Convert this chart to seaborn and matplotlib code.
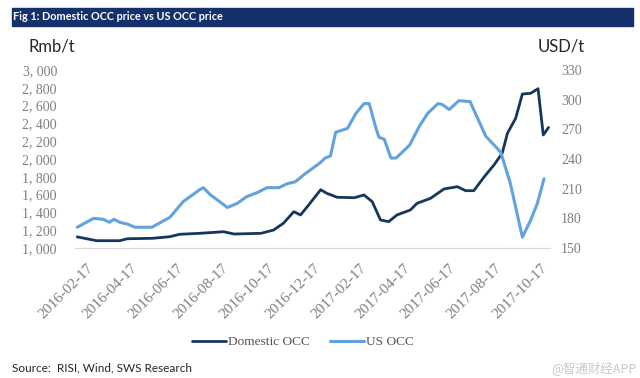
import pandas as pd
import matplotlib
matplotlib.use("Agg")
import matplotlib.pyplot as plt
from matplotlib.patches import Rectangle
import seaborn as sns

# Values
dom_dates = ["2016-02-05", "2016-03-02", "2016-04-02", "2016-04-12", "2016-05-16", "2016-06-08",
             "2016-06-21", "2016-07-18", "2016-08-19", "2016-09-02", "2016-10-08", "2016-10-25",
             "2016-11-07", "2016-11-21", "2016-11-30", "2016-12-09", "2016-12-27", "2017-01-04",
             "2017-01-18", "2017-02-10", "2017-02-23", "2017-03-06", "2017-03-17", "2017-03-28",
             "2017-04-08", "2017-04-26", "2017-05-05", "2017-05-23", "2017-06-10", "2017-06-28",
             "2017-07-09", "2017-07-20", "2017-08-03", "2017-08-16", "2017-08-27", "2017-09-03",
             "2017-09-14", "2017-09-23", "2017-10-04", "2017-10-14", "2017-10-21", "2017-10-28"]
dom_values = [1125, 1082, 1082, 1104, 1109, 1127, 1154, 1165, 1183, 1157, 1165, 1202,
              1278, 1408, 1371, 1464, 1655, 1615, 1570, 1565, 1596, 1520, 1315, 1296,
              1371, 1427, 1502, 1558, 1663, 1689, 1644, 1644, 1801, 1933, 2064, 2289,
              2457, 2730, 2738, 2790, 2270, 2354]

us_dates = ["2016-02-05", "2016-02-27", "2016-03-11", "2016-03-19", "2016-03-25", "2016-04-02",
            "2016-04-13", "2016-04-22", "2016-05-15", "2016-06-08", "2016-06-26", "2016-07-18",
            "2016-07-23", "2016-08-01", "2016-08-24", "2016-09-06", "2016-09-19", "2016-10-03",
            "2016-10-16", "2016-11-01", "2016-11-12", "2016-11-23", "2016-12-06", "2016-12-26",
            "2017-01-02", "2017-01-09", "2017-01-16", "2017-02-01", "2017-02-12", "2017-02-23",
            "2017-03-02", "2017-03-11", "2017-03-15", "2017-03-22", "2017-03-31", "2017-04-07",
            "2017-04-25", "2017-05-08", "2017-05-19", "2017-06-02", "2017-06-08", "2017-06-17",
            "2017-06-30", "2017-07-15", "2017-08-05", "2017-08-25", "2017-09-07", "2017-09-23",
            "2017-10-04", "2017-10-13", "2017-10-22"]
us_values = [171, 180, 179, 176, 179, 176, 174, 171, 171, 181, 197, 209,
             211, 204, 191, 195, 202, 206, 211, 211, 215, 217, 225, 236,
             241, 243, 267, 271, 286, 296, 296, 271, 262, 260, 241, 241,
             254, 273, 286, 296, 295, 290, 299, 298, 263, 247, 215, 161,
             178, 195, 220]

left_ticks = [1000, 1200, 1400, 1600, 1800, 2000, 2200, 2400, 2600, 2800, 3000]
right_ticks = [150, 180, 210, 240, 270, 300, 330]
x_ticks = pd.date_range("2016-02-17", periods=11, freq=pd.DateOffset(months=2))

dom = pd.DataFrame({"date": pd.to_datetime(dom_dates), "price": dom_values})
us = pd.DataFrame({"date": pd.to_datetime(us_dates), "price": us_values})

dark = "#16365C"
light = "#62A2DD"
grey = "#7f7f7f"

sns.set_style("white")
plt.rcParams["font.family"] = ["Liberation Serif", "DejaVu Sans"]

fig = plt.figure(figsize=(6.4, 3.78), dpi=100)
ax = fig.add_axes([75 / 640, 1 - 248 / 378, 475 / 640, 178 / 378])
ax2 = ax.twinx()

sns.lineplot(data=dom, x="date", y="price", ax=ax, color=dark, linewidth=2.0,
             label="Domestic OCC", legend=False)
sns.lineplot(data=us, x="date", y="price", ax=ax2, color=light, linewidth=2.2,
             label="US OCC", legend=False)

ax.set_xlim(pd.Timestamp("2016-02-02"), pd.Timestamp("2017-10-30"))
ax.set_ylim(1000, 3000)
ax2.set_ylim(150, 330)

ax.set_yticks(left_ticks)
ax.set_yticklabels([f"{v:,}".replace(",", ", ") for v in left_ticks])
ax2.set_yticks(right_ticks)
ax2.set_yticklabels([str(v) for v in right_ticks])
ax.set_xticks(x_ticks)
ax.set_xticklabels([d.strftime("%Y-%m-%d") for d in x_ticks], rotation=45,
                   ha="right", rotation_mode="anchor")

ax.tick_params(axis="x", length=0, pad=10, labelsize=11, labelcolor=grey)
ax.tick_params(axis="y", length=0, pad=13, labelsize=10, labelcolor=grey)
ax2.tick_params(axis="y", length=0, pad=8, labelsize=10, labelcolor=grey)

for a in (ax, ax2):
    a.set_xlabel("")
    a.set_ylabel("")
    a.grid(False)
    for s in ["top", "left", "right"]:
        a.spines[s].set_visible(False)
    a.spines["bottom"].set_color("#d9d9d9")
    a.spines["bottom"].set_linewidth(0.8)

# title bar
fig.add_artist(Rectangle((12 / 640, 1 - 26 / 378), 621 / 640, 18 / 378,
                         transform=fig.transFigure, color="#16306B", zorder=0))
fig.text(13 / 640, 1 - 17 / 378, "Fig 1: Domestic OCC price vs US OCC price",
         color="white", fontweight="bold", fontsize=7.8, family="Lato", va="center")

fig.text(29 / 640, 1 - 46 / 378, "Rmb/t", fontsize=12, family="Lato", va="center")
fig.text(538 / 640, 1 - 46 / 378, "USD/t", fontsize=12, family="Lato", va="center")

handles = [ax.get_lines()[0], ax2.get_lines()[0]]
fig.legend(handles, ["Domestic OCC", "US OCC"], loc="center", bbox_to_anchor=(0.474, 0.095),
           ncol=2, frameon=False, fontsize=9.6, handlelength=2.55, handletextpad=0.15,
           columnspacing=1.5, labelcolor="#555555")

fig.text(12 / 640, 1 - 368 / 378, "Source:  RISI, Wind, SWS Research", fontsize=8.5,
         family="Lato", va="center")
fig.text(636 / 640, 1 - 368 / 378, "@智通财经APP", ha="right", va="center", color="#c8c8c8",
         fontsize=9, family=["Noto Sans CJK SC", "DejaVu Sans"])

fig.savefig("out.png", dpi=100)
